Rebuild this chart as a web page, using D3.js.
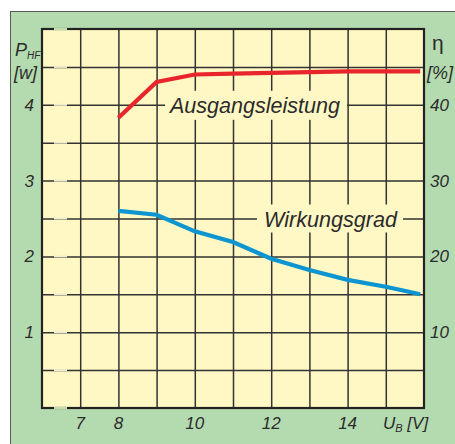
<!DOCTYPE html>
<html>
<head>
<meta charset="utf-8">
<script src="https://d3js.org/d3.v7.min.js"></script>
<style>
  body { margin: 0; background: #fff; }
  text { font-family: "Liberation Sans", Arial, sans-serif; font-style: italic; fill: #2b2b2b; }
</style>
</head>
<body>
<svg width="455" height="444"></svg>
<script>
// supply voltage U_B [V]
const voltage = [8, 9, 10, 11, 12, 13, 14, 15, 15.9];
// output power P_HF [W]
const power = [3.83, 4.30, 4.40, 4.41, 4.42, 4.43, 4.44, 4.44, 4.44];
// efficiency eta [%]
const efficiency = [26.0, 25.5, 23.3, 21.9, 19.7, 18.2, 16.9, 16.0, 15.0];

const xLabels = [7, 8, 10, 12, 14];
const leftLabels = [1, 2, 3, 4];
const rightLabels = [10, 20, 30, 40];

const svg = d3.select("svg");
const plotL = 42, plotR = 424, plotT = 29, plotB = 408;

const x = d3.scaleLinear().domain([6, 16]).range([plotL, plotR]);
const yP = d3.scaleLinear().domain([0, 5]).range([plotB, plotT]);
const yEta = d3.scaleLinear().domain([0, 50]).range([plotB, plotT]);

// green panel
svg.append("rect")
  .attr("x", 10.5).attr("y", 11.5)
  .attr("width", 460).attr("height", 450)
  .attr("fill", "#b4dbb0")
  .attr("stroke", "#5a5a5a").attr("stroke-width", 1);

// plot area
svg.append("rect")
  .attr("x", plotL).attr("y", plotT)
  .attr("width", plotR - plotL).attr("height", plotB - plotT)
  .attr("fill", "#fff8c4");

// grid from axes
svg.append("g")
  .attr("transform", `translate(0,${plotB})`)
  .call(d3.axisBottom(x).tickValues(d3.range(7, 16)).tickSize(-(plotB - plotT)).tickFormat(""));
svg.append("g")
  .attr("transform", `translate(${plotL},0)`)
  .call(d3.axisLeft(yP).tickValues(d3.range(0.5, 5, 0.5)).tickSize(-(plotR - plotL)).tickFormat(""));
svg.selectAll(".domain").remove();
svg.selectAll(".tick line").attr("stroke", "#333").attr("stroke-width", 1.5);

// little breaks in the horizontal lines near the left edge
svg.append("g").selectAll("rect")
  .data(d3.range(0.5, 5, 0.5))
  .join("rect")
  .attr("x", 54).attr("width", 13)
  .attr("y", d => yP(d) - 1).attr("height", 2)
  .attr("fill", "#f1edcc");

// frame
svg.append("rect")
  .attr("x", plotL).attr("y", plotT)
  .attr("width", plotR - plotL).attr("height", plotB - plotT)
  .attr("fill", "none")
  .attr("stroke", "#222").attr("stroke-width", 2.2);
svg.append("g").selectAll("rect")
  .data([0, 5])
  .join("rect")
  .attr("x", 54).attr("width", 13)
  .attr("y", d => yP(d) - 1.2).attr("height", 2.4)
  .attr("fill", "#c2dcae");

// label boxes hiding the grid
svg.append("rect")
  .attr("x", 165).attr("y", yP(4) - 14)
  .attr("width", 182).attr("height", 29)
  .attr("fill", "#fff8c4");
svg.append("rect")
  .attr("x", 257).attr("y", yEta(25) - 14)
  .attr("width", 146).attr("height", 28)
  .attr("fill", "#fff8c4");

// curves
const powerLine = d3.line().x((d, i) => x(voltage[i])).y(d => yP(d));
const etaLine = d3.line().x((d, i) => x(voltage[i])).y(d => yEta(d));

svg.append("path")
  .datum(power)
  .attr("d", powerLine)
  .attr("fill", "none")
  .attr("stroke", "#e8252b")
  .attr("stroke-width", 4.2);

svg.append("path")
  .datum(efficiency)
  .attr("d", etaLine)
  .attr("fill", "none")
  .attr("stroke", "#0c95d0")
  .attr("stroke-width", 4.2);

// curve labels
svg.append("text")
  .attr("x", 170).attr("y", yP(4) + 8)
  .attr("font-size", 22)
  .attr("textLength", 170).attr("lengthAdjust", "spacingAndGlyphs")
  .text("Ausgangsleistung");
svg.append("text")
  .attr("x", 264).attr("y", yEta(25) + 8)
  .attr("font-size", 22)
  .attr("textLength", 133).attr("lengthAdjust", "spacingAndGlyphs")
  .text("Wirkungsgrad");

// tick labels
svg.append("g").selectAll("text")
  .data(leftLabels)
  .join("text")
  .attr("x", 34).attr("y", d => yP(d) + 6)
  .attr("text-anchor", "end")
  .attr("font-size", 17)
  .text(d => d);

svg.append("g").selectAll("text")
  .data(rightLabels)
  .join("text")
  .attr("x", 430).attr("y", d => yEta(d) + 6)
  .attr("font-size", 17)
  .text(d => d);

svg.append("g").selectAll("text")
  .data(xLabels)
  .join("text")
  .attr("x", d => x(d)).attr("y", 429)
  .attr("text-anchor", "middle")
  .attr("font-size", 17)
  .text(d => d);

// axis titles
const pt = svg.append("text").attr("x", 15).attr("y", 56).attr("font-size", 18);
pt.append("tspan").text("P");
pt.append("tspan").attr("font-size", 10).attr("dy", 3).text("HF");
svg.append("text").attr("x", 14).attr("y", 79).attr("font-size", 18).text("[w]");

svg.append("text").attr("x", 432).attr("y", 50).attr("font-size", 21)
  .style("font-style", "normal").text("η");
svg.append("text").attr("x", 427).attr("y", 79).attr("font-size", 18).text("[%]");

const ub = svg.append("text").attr("x", 383).attr("y", 429).attr("font-size", 17);
ub.append("tspan").text("U");
ub.append("tspan").attr("font-size", 11).attr("dy", 3).text("B");
ub.append("tspan").attr("dy", -3).text(" [V]");
</script>
</body>
</html>
